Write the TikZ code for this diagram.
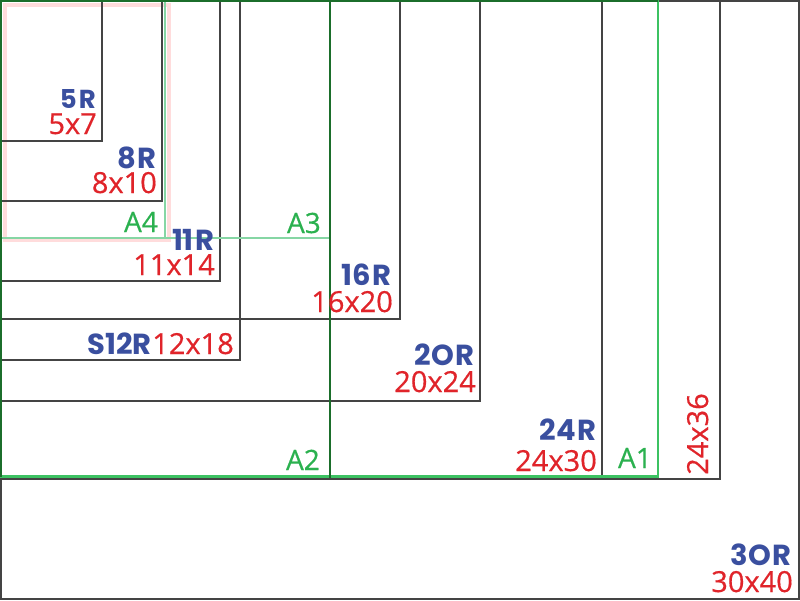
\documentclass[tikz,border=0pt]{standalone}
\usepackage{fontspec}
\setmainfont{Open Sans}
\newfontfamily\redfont{Open Sans}[FakeBold=0.5]
\newfontfamily\bluefont{Poppins}
\definecolor{framegray}{HTML}{444444}
\definecolor{lblue}{HTML}{3A4F9F}
\definecolor{lred}{HTML}{E0242A}
\definecolor{lgreen}{HTML}{2BB14F}
\definecolor{palegreen}{HTML}{86D6A4}
\definecolor{midgreen}{HTML}{3CC262}
\definecolor{darkgreen}{HTML}{1B6E2B}
\definecolor{glowpink}{HTML}{FFDCDC}
\tikzset{
  sizebox/.style={draw=framegray, line width=2.6pt},
  abox/.style={draw=palegreen, line width=2.4pt},
  a1box/.style={draw=midgreen, line width=2.2pt},
  a2box/.style={draw=darkgreen, line width=2.4pt},
  bluelbl/.style={text=lblue, inner sep=0pt, anchor=base east, font=\bluefont\bfseries\fontsize{29}{29}\selectfont},
  redlbl/.style={text=lred, inner sep=0pt, anchor=base east, font=\redfont\fontsize{29}{29}\selectfont},
  greenlbl/.style={text=lgreen, inner sep=0pt, anchor=base east, font=\redfont\fontsize{28}{28}\selectfont},
}
\begin{document}
\begin{tikzpicture}[x=1pt,y=-1pt]
\useasboundingbox (0,0) rectangle (800,600);
\fill[white] (0,0) rectangle (800,600);
% pink glow around A4
\draw[glowpink, line width=3.5pt] (5,5) rectangle (169,240);
% photo sizes
\draw[sizebox] (1,1) rectangle (799,599);
\draw[sizebox] (1,1) rectangle (720,479);
\draw[sizebox] (1,1) rectangle (602,479);
\draw[sizebox] (1,1) rectangle (480,401);
\draw[sizebox] (1,1) rectangle (400,319);
\draw[sizebox] (1,1) rectangle (240,360);
\draw[sizebox] (1,1) rectangle (220,281);
\draw[sizebox] (1,1) rectangle (162,201);
\draw[sizebox] (1,1) rectangle (102,141);
% A sizes
\draw[abox] (1,1) rectangle (330,238);
\draw[abox] (1,1) rectangle (165,238);
\draw[a1box] (1,1) rectangle (658,476.5);
\draw[a2box] (1,476.5) -- (1,1) -- (658,1);
\draw[a2box] (330,1) -- (330,478);
% labels
\node[bluelbl, font=\bluefont\bfseries\fontsize{26}{26}\selectfont] (b5) at (96,108) {5\kern2pt R};
\node[redlbl] (r5) at (97,134) {5x7};
\node[bluelbl] (b8) at (157,168) {8\kern2pt R};
\node[redlbl] (r8) at (157,193) {8x10};
\node[greenlbl] (ga4) at (158,232) {A4};
\node[bluelbl] (b11) at (215,250) {11\kern2pt R};
\node[redlbl] (r11) at (215,275) {11x14};
\node[greenlbl] (ga3) at (321,233) {A3};
\node[bluelbl] (b16) at (392,285) {16\kern2pt R};
\node[redlbl] (r16) at (393,312) {16x20};
\node[redlbl] (r12) at (234,354) {12x18};
\node[bluelbl] (b12) at (r12.base west) {S12R};
\node[bluelbl] (b20) at (475,365) {2O\kern2pt R};
\node[redlbl] (r20) at (476,392) {20x24};
\node[bluelbl] (b24) at (597,440) {24\kern2pt R};
\node[redlbl] (r24) at (597,471) {24x30};
\node[greenlbl] (ga2) at (320,470) {A2};
\node[greenlbl] (ga1) at (652,468) {A1};
\node[text=lred, inner sep=0pt, anchor=base west, rotate=90, font=\redfont\fontsize{29}{29}\selectfont] (r36) at (708,475) {24x36};
\node[bluelbl] (b30) at (792,565) {3O\kern2pt R};
\node[redlbl] (r30) at (793,592) {30x40};
\end{tikzpicture}
\end{document}
